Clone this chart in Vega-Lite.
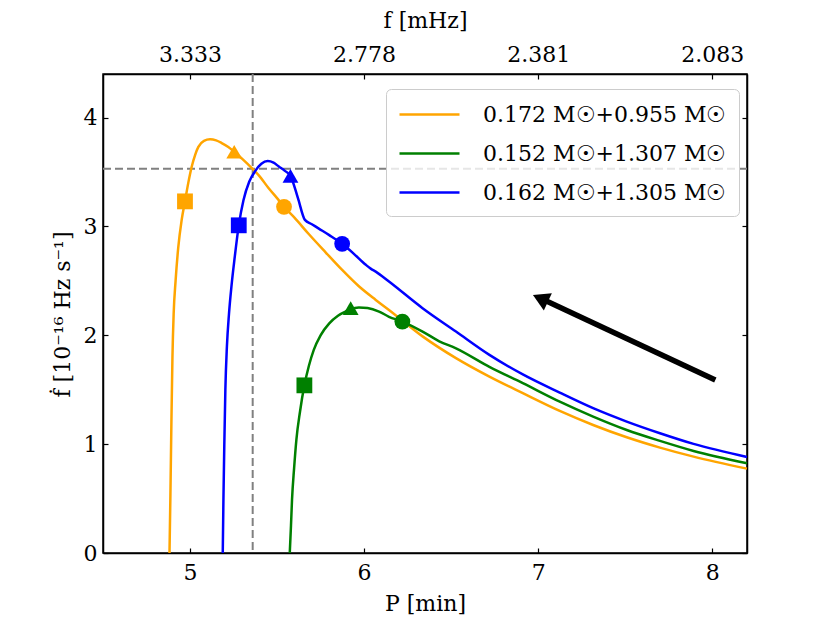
{
  "$schema": "https://vega.github.io/schema/vega-lite/v6.json",
  "autosize": {"type": "none"},
  "padding": {"left": 103, "top": 74, "right": 83, "bottom": 70},
  "width": 644,
  "height": 479,
  "background": "white",
  "config": {
    "font": "DejaVu Serif",
    "view": {"stroke": "black", "strokeWidth": 1.5},
    "axis": {
      "labelFont": "DejaVu Serif",
      "titleFont": "DejaVu Serif",
      "labelFontSize": 22,
      "titleFontSize": 22,
      "labelColor": "black",
      "titleColor": "black",
      "titleFontWeight": "normal",
      "grid": false,
      "domainColor": "black",
      "domainWidth": 1.5,
      "tickColor": "black",
      "tickWidth": 1.2,
      "tickSize": -5
    },
    "legend": {
      "labelFont": "DejaVu Serif",
      "labelFontSize": 22,
      "labelColor": "black",
      "labelLimit": 400
    }
  },
  "datasets": {
    "curves": [
      {"s": "0.172 M☉+0.955 M☉", "P": 4.882, "fdot": 0},
      {"s": "0.172 M☉+0.955 M☉", "P": 4.887, "fdot": 0.5},
      {"s": "0.172 M☉+0.955 M☉", "P": 4.893, "fdot": 1.2},
      {"s": "0.172 M☉+0.955 M☉", "P": 4.899, "fdot": 1.8},
      {"s": "0.172 M☉+0.955 M☉", "P": 4.906, "fdot": 2.2},
      {"s": "0.172 M☉+0.955 M☉", "P": 4.917, "fdot": 2.5},
      {"s": "0.172 M☉+0.955 M☉", "P": 4.932, "fdot": 2.8},
      {"s": "0.172 M☉+0.955 M☉", "P": 4.952, "fdot": 3.06},
      {"s": "0.172 M☉+0.955 M☉", "P": 4.971, "fdot": 3.23},
      {"s": "0.172 M☉+0.955 M☉", "P": 4.99, "fdot": 3.4},
      {"s": "0.172 M☉+0.955 M☉", "P": 5.01, "fdot": 3.55},
      {"s": "0.172 M☉+0.955 M☉", "P": 5.03, "fdot": 3.66},
      {"s": "0.172 M☉+0.955 M☉", "P": 5.048, "fdot": 3.73},
      {"s": "0.172 M☉+0.955 M☉", "P": 5.08, "fdot": 3.785},
      {"s": "0.172 M☉+0.955 M☉", "P": 5.115, "fdot": 3.8},
      {"s": "0.172 M☉+0.955 M☉", "P": 5.15, "fdot": 3.79},
      {"s": "0.172 M☉+0.955 M☉", "P": 5.182, "fdot": 3.766},
      {"s": "0.172 M☉+0.955 M☉", "P": 5.22, "fdot": 3.73},
      {"s": "0.172 M☉+0.955 M☉", "P": 5.254, "fdot": 3.686},
      {"s": "0.172 M☉+0.955 M☉", "P": 5.3, "fdot": 3.62},
      {"s": "0.172 M☉+0.955 M☉", "P": 5.355, "fdot": 3.536},
      {"s": "0.172 M☉+0.955 M☉", "P": 5.4, "fdot": 3.46},
      {"s": "0.172 M☉+0.955 M☉", "P": 5.452, "fdot": 3.35},
      {"s": "0.172 M☉+0.955 M☉", "P": 5.5, "fdot": 3.26},
      {"s": "0.172 M☉+0.955 M☉", "P": 5.54, "fdot": 3.18},
      {"s": "0.172 M☉+0.955 M☉", "P": 5.6, "fdot": 3.08},
      {"s": "0.172 M☉+0.955 M☉", "P": 5.682, "fdot": 2.93},
      {"s": "0.172 M☉+0.955 M☉", "P": 5.78, "fdot": 2.76},
      {"s": "0.172 M☉+0.955 M☉", "P": 5.874, "fdot": 2.6},
      {"s": "0.172 M☉+0.955 M☉", "P": 5.97, "fdot": 2.45},
      {"s": "0.172 M☉+0.955 M☉", "P": 6.067, "fdot": 2.325},
      {"s": "0.172 M☉+0.955 M☉", "P": 6.143, "fdot": 2.233},
      {"s": "0.172 M☉+0.955 M☉", "P": 6.336, "fdot": 1.99},
      {"s": "0.172 M☉+0.955 M☉", "P": 6.528, "fdot": 1.79},
      {"s": "0.172 M☉+0.955 M☉", "P": 6.72, "fdot": 1.62},
      {"s": "0.172 M☉+0.955 M☉", "P": 6.912, "fdot": 1.468},
      {"s": "0.172 M☉+0.955 M☉", "P": 7.124, "fdot": 1.305},
      {"s": "0.172 M☉+0.955 M☉", "P": 7.316, "fdot": 1.176},
      {"s": "0.172 M☉+0.955 M☉", "P": 7.509, "fdot": 1.063},
      {"s": "0.172 M☉+0.955 M☉", "P": 7.7, "fdot": 0.968},
      {"s": "0.172 M☉+0.955 M☉", "P": 7.893, "fdot": 0.885},
      {"s": "0.172 M☉+0.955 M☉", "P": 8.2, "fdot": 0.775},
      {"s": "0.152 M☉+1.307 M☉", "P": 5.573, "fdot": 0},
      {"s": "0.152 M☉+1.307 M☉", "P": 5.58, "fdot": 0.25},
      {"s": "0.152 M☉+1.307 M☉", "P": 5.586, "fdot": 0.49},
      {"s": "0.152 M☉+1.307 M☉", "P": 5.598, "fdot": 0.78},
      {"s": "0.152 M☉+1.307 M☉", "P": 5.611, "fdot": 1.04},
      {"s": "0.152 M☉+1.307 M☉", "P": 5.632, "fdot": 1.3},
      {"s": "0.152 M☉+1.307 M☉", "P": 5.657, "fdot": 1.54},
      {"s": "0.152 M☉+1.307 M☉", "P": 5.683, "fdot": 1.72},
      {"s": "0.152 M☉+1.307 M☉", "P": 5.711, "fdot": 1.866},
      {"s": "0.152 M☉+1.307 M☉", "P": 5.75, "fdot": 2.0},
      {"s": "0.152 M☉+1.307 M☉", "P": 5.8, "fdot": 2.11},
      {"s": "0.152 M☉+1.307 M☉", "P": 5.85, "fdot": 2.18},
      {"s": "0.152 M☉+1.307 M☉", "P": 5.894, "fdot": 2.218},
      {"s": "0.152 M☉+1.307 M☉", "P": 5.923, "fdot": 2.24},
      {"s": "0.152 M☉+1.307 M☉", "P": 5.97, "fdot": 2.255},
      {"s": "0.152 M☉+1.307 M☉", "P": 6.02, "fdot": 2.25},
      {"s": "0.152 M☉+1.307 M☉", "P": 6.086, "fdot": 2.218},
      {"s": "0.152 M☉+1.307 M☉", "P": 6.143, "fdot": 2.17},
      {"s": "0.152 M☉+1.307 M☉", "P": 6.22, "fdot": 2.126},
      {"s": "0.152 M☉+1.307 M☉", "P": 6.336, "fdot": 2.034},
      {"s": "0.152 M☉+1.307 M☉", "P": 6.432, "fdot": 1.945},
      {"s": "0.152 M☉+1.307 M☉", "P": 6.528, "fdot": 1.88},
      {"s": "0.152 M☉+1.307 M☉", "P": 6.72, "fdot": 1.71},
      {"s": "0.152 M☉+1.307 M☉", "P": 6.912, "fdot": 1.56},
      {"s": "0.152 M☉+1.307 M☉", "P": 7.124, "fdot": 1.39},
      {"s": "0.152 M☉+1.307 M☉", "P": 7.316, "fdot": 1.253},
      {"s": "0.152 M☉+1.307 M☉", "P": 7.509, "fdot": 1.13},
      {"s": "0.152 M☉+1.307 M☉", "P": 7.7, "fdot": 1.03},
      {"s": "0.152 M☉+1.307 M☉", "P": 7.893, "fdot": 0.9375},
      {"s": "0.152 M☉+1.307 M☉", "P": 8.2, "fdot": 0.824},
      {"s": "0.162 M☉+1.305 M☉", "P": 5.188, "fdot": 0},
      {"s": "0.162 M☉+1.305 M☉", "P": 5.192, "fdot": 0.5},
      {"s": "0.162 M☉+1.305 M☉", "P": 5.197, "fdot": 1.0},
      {"s": "0.162 M☉+1.305 M☉", "P": 5.203, "fdot": 1.5},
      {"s": "0.162 M☉+1.305 M☉", "P": 5.212, "fdot": 1.9},
      {"s": "0.162 M☉+1.305 M☉", "P": 5.224, "fdot": 2.2},
      {"s": "0.162 M☉+1.305 M☉", "P": 5.238, "fdot": 2.45},
      {"s": "0.162 M☉+1.305 M☉", "P": 5.257, "fdot": 2.72},
      {"s": "0.162 M☉+1.305 M☉", "P": 5.28, "fdot": 3.01},
      {"s": "0.162 M☉+1.305 M☉", "P": 5.307, "fdot": 3.24},
      {"s": "0.162 M☉+1.305 M☉", "P": 5.34, "fdot": 3.41},
      {"s": "0.162 M☉+1.305 M☉", "P": 5.375, "fdot": 3.51},
      {"s": "0.162 M☉+1.305 M☉", "P": 5.41, "fdot": 3.575},
      {"s": "0.162 M☉+1.305 M☉", "P": 5.446, "fdot": 3.6},
      {"s": "0.162 M☉+1.305 M☉", "P": 5.48, "fdot": 3.585},
      {"s": "0.162 M☉+1.305 M☉", "P": 5.51, "fdot": 3.55},
      {"s": "0.162 M☉+1.305 M☉", "P": 5.545, "fdot": 3.51},
      {"s": "0.162 M☉+1.305 M☉", "P": 5.577, "fdot": 3.465},
      {"s": "0.162 M☉+1.305 M☉", "P": 5.62, "fdot": 3.26},
      {"s": "0.162 M☉+1.305 M☉", "P": 5.66, "fdot": 3.06},
      {"s": "0.162 M☉+1.305 M☉", "P": 5.7, "fdot": 3.02},
      {"s": "0.162 M☉+1.305 M☉", "P": 5.74, "fdot": 2.98},
      {"s": "0.162 M☉+1.305 M☉", "P": 5.8, "fdot": 2.92},
      {"s": "0.162 M☉+1.305 M☉", "P": 5.874, "fdot": 2.84},
      {"s": "0.162 M☉+1.305 M☉", "P": 5.94, "fdot": 2.75},
      {"s": "0.162 M☉+1.305 M☉", "P": 6.01, "fdot": 2.647},
      {"s": "0.162 M☉+1.305 M☉", "P": 6.04, "fdot": 2.61},
      {"s": "0.162 M☉+1.305 M☉", "P": 6.067, "fdot": 2.585},
      {"s": "0.162 M☉+1.305 M☉", "P": 6.143, "fdot": 2.494},
      {"s": "0.162 M☉+1.305 M☉", "P": 6.336, "fdot": 2.249},
      {"s": "0.162 M☉+1.305 M☉", "P": 6.528, "fdot": 2.034},
      {"s": "0.162 M☉+1.305 M☉", "P": 6.72, "fdot": 1.82},
      {"s": "0.162 M☉+1.305 M☉", "P": 6.912, "fdot": 1.64},
      {"s": "0.162 M☉+1.305 M☉", "P": 7.124, "fdot": 1.473},
      {"s": "0.162 M☉+1.305 M☉", "P": 7.316, "fdot": 1.33},
      {"s": "0.162 M☉+1.305 M☉", "P": 7.509, "fdot": 1.207},
      {"s": "0.162 M☉+1.305 M☉", "P": 7.7, "fdot": 1.1},
      {"s": "0.162 M☉+1.305 M☉", "P": 7.893, "fdot": 1.002},
      {"s": "0.162 M☉+1.305 M☉", "P": 8.2, "fdot": 0.882}
    ],
    "markers": [
      {"s": "0.172 M☉+0.955 M☉", "mk": "square", "P": 4.971, "fdot": 3.23},
      {"s": "0.172 M☉+0.955 M☉", "mk": "triangle-up", "P": 5.254, "fdot": 3.686},
      {"s": "0.172 M☉+0.955 M☉", "mk": "circle", "P": 5.54, "fdot": 3.18},
      {"s": "0.152 M☉+1.307 M☉", "mk": "square", "P": 5.657, "fdot": 1.54},
      {"s": "0.152 M☉+1.307 M☉", "mk": "triangle-up", "P": 5.923, "fdot": 2.249},
      {"s": "0.152 M☉+1.307 M☉", "mk": "circle", "P": 6.22, "fdot": 2.126},
      {"s": "0.162 M☉+1.305 M☉", "mk": "square", "P": 5.28, "fdot": 3.01},
      {"s": "0.162 M☉+1.305 M☉", "mk": "triangle-up", "P": 5.577, "fdot": 3.465},
      {"s": "0.162 M☉+1.305 M☉", "mk": "circle", "P": 5.874, "fdot": 2.84}
    ],
    "vline": [{"P": 5.36}],
    "hline": [{"fdot": 3.53}],
    "arrow": [{"P": 8.018, "fdot": 1.59, "P2": 7.035, "fdot2": 2.323}],
    "head": [{"P": 7.013, "fdot": 2.339}]
  },
  "resolve": {"axis": {"x": "independent", "y": "independent"}},
  "layer": [
    {
      "data": {"name": "vline"},
      "mark": {"type": "rule", "color": "gray", "strokeWidth": 2, "strokeDash": [8, 4]},
      "encoding": {
        "x": {
          "field": "P", "type": "quantitative",
          "scale": {"domain": [4.5, 8.2], "nice": false, "zero": false},
          "axis": {
            "orient": "top",
            "values": [5, 6, 7, 8],
            "labelExpr": "format(1000 / (60 * datum.value), '.3f')",
            "labelPadding": 13,
            "title": "f [mHz]",
            "titleBaseline": "middle",
            "titleY": -54
          }
        }
      }
    },
    {
      "data": {"name": "hline"},
      "mark": {"type": "rule", "color": "gray", "strokeWidth": 2, "strokeDash": [8, 4]},
      "encoding": {
        "y": {
          "field": "fdot", "type": "quantitative",
          "scale": {"domain": [0, 4.4], "nice": false},
          "axis": {
            "orient": "right",
            "values": [0, 1, 2, 3, 4],
            "labels": false,
            "title": null
          }
        }
      }
    },
    {
      "data": {"name": "curves"},
      "mark": {"type": "line", "strokeWidth": 2.5, "interpolate": "monotone"},
      "encoding": {
        "x": {
          "field": "P", "type": "quantitative",
          "axis": {
            "values": [5, 6, 7, 8],
            "labelPadding": 14,
            "title": "P [min]",
            "titleBaseline": "middle",
            "titleY": 50
          }
        },
        "y": {
          "field": "fdot", "type": "quantitative",
          "axis": {
            "values": [0, 1, 2, 3, 4],
            "labelPadding": 11,
            "title": "ḟ [10⁻¹⁶ Hz s⁻¹]",
            "titleBaseline": "middle",
            "titleX": -41,
            "titleY": 240
          }
        },
        "color": {
          "field": "s", "type": "nominal",
          "scale": {
            "domain": ["0.172 M☉+0.955 M☉", "0.152 M☉+1.307 M☉", "0.162 M☉+1.305 M☉"],
            "range": ["#FFA500", "#008000", "#0000FF"]
          },
          "legend": {
            "title": null,
            "orient": "none",
            "legendX": 283,
            "legendY": 15,
            "symbolType": "M-1,0H4",
            "symbolSize": 576,
            "symbolStrokeWidth": 2.5,
            "labelOffset": 58,
            "rowPadding": 14,
            "padding": 12,
            "fillColor": "rgba(255,255,255,0.8)",
            "strokeColor": "#cccccc",
            "cornerRadius": 5
          }
        }
      }
    },
    {
      "data": {"name": "markers"},
      "mark": {"type": "point", "filled": true, "size": 250, "opacity": 1},
      "encoding": {
        "x": {"field": "P", "type": "quantitative", "axis": null},
        "y": {"field": "fdot", "type": "quantitative", "axis": null},
        "shape": {
          "field": "mk", "type": "nominal",
          "scale": {"domain": ["square", "triangle-up", "circle"], "range": ["square", "triangle-up", "circle"]},
          "legend": null
        },
        "fill": {
          "field": "s", "type": "nominal",
          "scale": {
            "domain": ["0.172 M☉+0.955 M☉", "0.152 M☉+1.307 M☉", "0.162 M☉+1.305 M☉"],
            "range": ["#FFA500", "#008000", "#0000FF"]
          },
          "legend": null
        }
      }
    },
    {
      "data": {"name": "arrow"},
      "mark": {"type": "rule", "color": "black", "strokeWidth": 5.5},
      "encoding": {
        "x": {"field": "P", "type": "quantitative", "axis": null},
        "y": {"field": "fdot", "type": "quantitative", "axis": null},
        "x2": {"field": "P2"},
        "y2": {"field": "fdot2"}
      }
    },
    {
      "data": {"name": "head"},
      "mark": {"type": "point", "shape": "triangle-up", "filled": true, "color": "black", "size": 360, "angle": 295, "opacity": 1},
      "encoding": {
        "x": {"field": "P", "type": "quantitative", "axis": null},
        "y": {"field": "fdot", "type": "quantitative", "axis": null}
      }
    }
  ]
}
